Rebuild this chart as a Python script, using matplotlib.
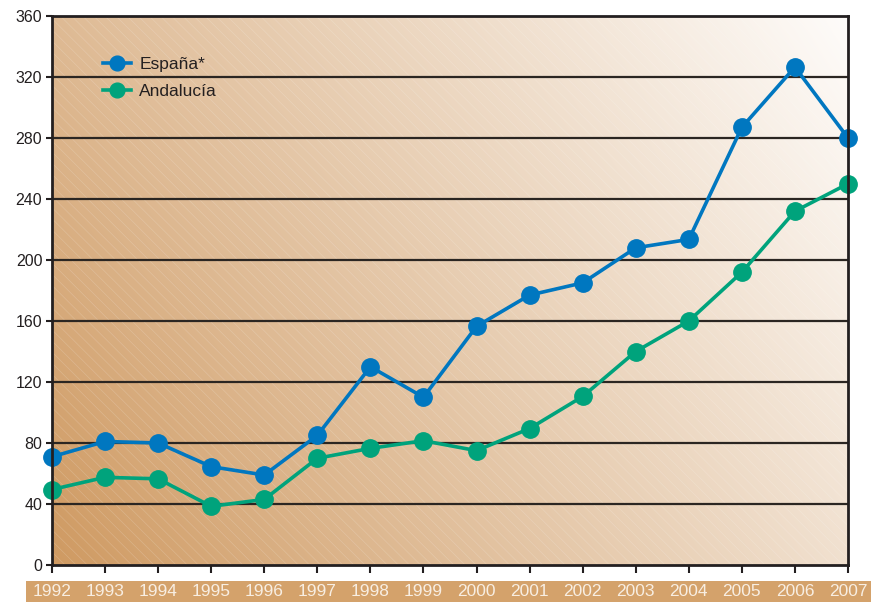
import numpy as np
import matplotlib
matplotlib.use("Agg")
import matplotlib.pyplot as plt
from matplotlib.patches import Rectangle

years = ["1992", "1993", "1994", "1995", "1996", "1997", "1998", "1999",
         "2000", "2001", "2002", "2003", "2004", "2005", "2006", "2007"]
espana = [71, 81, 80, 64.5, 59, 85, 130, 110, 156.5, 177, 185, 208, 213.5, 287, 326.5, 280]
andalucia = [49.5, 57.5, 56.5, 38.5, 43, 70, 76.5, 81.5, 75, 89.5, 110.5, 140, 160, 192, 232, 250]
yticks = [0, 40, 80, 120, 160, 200, 240, 280, 320, 360]

plt.rcParams['font.family'] = ['Liberation Sans', 'DejaVu Sans']

fig = plt.figure(figsize=(8.71, 6.02), dpi=100)
ax = fig.add_axes([52/871, 1-565/602, (848-52)/871, (565-16)/602])

x = np.arange(len(years))

# gradient background
nx, ny = 400, 300
u = np.linspace(0, 1, nx)[None, :]
v = np.linspace(0, 1, ny)[:, None]
t = np.clip(0.72 * u + 0.33 * v - 0.05 * u * v, 0, 1)
c0 = np.array([207, 154, 98]) / 255
c1 = np.array([254, 252, 250]) / 255
img = c0[None, None, :] + (c1 - c0)[None, None, :] * t[:, :, None]
ax.imshow(img, extent=[0, 1, 0, 1], transform=ax.transAxes, origin='lower',
          aspect='auto', zorder=0, interpolation='bilinear')
plt.rcParams['hatch.linewidth'] = 0.5
ax.add_patch(Rectangle((0, 0), 1, 1, transform=ax.transAxes, facecolor='none',
                       edgecolor=(1, 1, 1, 0.18), hatch='\\\\\\', lw=0, zorder=0.5))

for yv in yticks[1:-1]:
    ax.axhline(yv, color='#2b2622', lw=1.6, zorder=1)

ax.plot(x, espana, color='#0077c0', lw=2.6, marker='o', ms=12.5,
        label='España*', zorder=3, clip_on=False)
ax.plot(x, andalucia, color='#00a37c', lw=2.6, marker='o', ms=12.5,
        label='Andalucía', zorder=3, clip_on=False)

ax.set_xlim(0, len(years) - 1)
ax.set_ylim(0, 360)
ax.set_yticks(yticks)
ax.set_yticklabels([str(v) for v in yticks], fontsize=11.5, color='#231f20')
ax.set_xticks(x)
ax.set_xticklabels(years, fontsize=12.5, color='#f8eee2')
ax.tick_params(axis='x', length=6, width=1.5, color='#231f20', pad=8)
ax.tick_params(axis='y', length=4, width=1.5, color='#231f20', pad=3)
for s in ax.spines.values():
    s.set_color('#231f20')
    s.set_linewidth(2.0)
    s.set_zorder(4)

leg = ax.legend(loc='upper left', bbox_to_anchor=((103-52)/796, (565-57)/549),
                frameon=False, fontsize=12.5, handlelength=1.6, handletextpad=0.5,
                labelspacing=0.7, markerscale=0.85, borderpad=0, borderaxespad=0)
for txt in leg.get_texts():
    txt.set_color('#231f20')

fig.add_artist(Rectangle((26/871, 0), 1 - 26/871, 21/602, transform=fig.transFigure,
                         facecolor='#d4a26b', edgecolor='none', zorder=-1))

fig.savefig('out.png', dpi=100)
